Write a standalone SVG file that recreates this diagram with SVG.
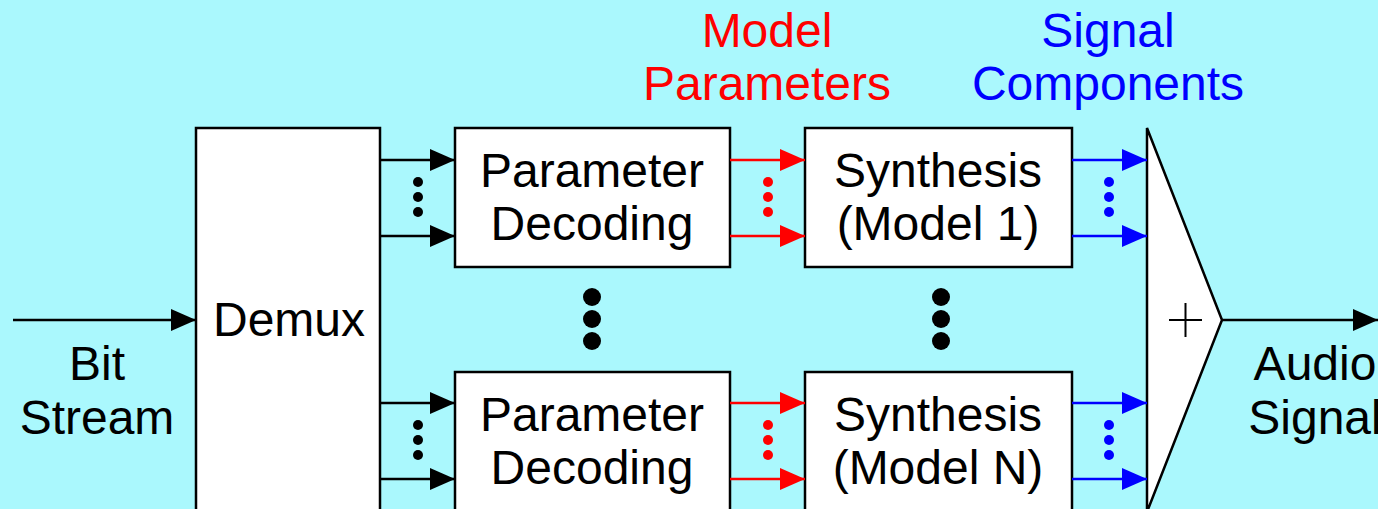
<svg xmlns="http://www.w3.org/2000/svg" width="1378" height="509" viewBox="0 0 1378 509">
<defs>
<marker id="ak" viewBox="0 0 25 22" refX="25" refY="11" markerWidth="25" markerHeight="22" markerUnits="userSpaceOnUse" orient="auto"><path d="M0,0 L25,11 L0,22 Z" fill="#000"/></marker>
<marker id="ar" viewBox="0 0 25 22" refX="25" refY="11" markerWidth="25" markerHeight="22" markerUnits="userSpaceOnUse" orient="auto"><path d="M0,0 L25,11 L0,22 Z" fill="#f00"/></marker>
<marker id="ab" viewBox="0 0 25 22" refX="25" refY="11" markerWidth="25" markerHeight="22" markerUnits="userSpaceOnUse" orient="auto"><path d="M0,0 L25,11 L0,22 Z" fill="#00f"/></marker>
</defs>
<style>
.box{fill:#fff;stroke:#000;stroke-width:2.5}
text{font-family:"Liberation Sans",Arial,sans-serif;font-size:48px;text-anchor:middle;fill:#000}
.k{stroke:#000;stroke-width:2.5;fill:none;marker-end:url(#ak)}
.r{stroke:#f00;stroke-width:2.5;fill:none;marker-end:url(#ar)}
.b{stroke:#00f;stroke-width:2.5;fill:none;marker-end:url(#ab)}
</style>
<rect width="1378" height="509" fill="#aaf8fd"/>
<g id="labels">
<text x="767" y="47" style="fill:#f00">Model</text>
<text x="767" y="100" style="fill:#f00">Parameters</text>
<text x="1108" y="47" style="fill:#00f">Signal</text>
<text x="1108" y="100" style="fill:#00f">Components</text>
<text x="97" y="380">Bit</text>
<text x="97" y="434">Stream</text>
<text x="1315" y="380">Audio</text>
<text x="1315" y="434">Signal</text>
</g>
<g id="demux"><rect class="box" x="196" y="128" width="184" height="400"/><text x="289" y="336">Demux</text></g>
<g id="pd1"><rect class="box" x="455" y="128" width="275" height="139"/><text x="592" y="187">Parameter</text><text x="592" y="240">Decoding</text></g>
<g id="pdN"><rect class="box" x="455" y="372" width="275" height="160"/><text x="592" y="431">Parameter</text><text x="592" y="484">Decoding</text></g>
<g id="syn1"><rect class="box" x="805" y="128" width="267" height="139"/><text x="938" y="187">Synthesis</text><text x="938" y="240">(Model 1)</text></g>
<g id="synN"><rect class="box" x="805" y="372" width="267" height="160"/><text x="938" y="431">Synthesis</text><text x="938" y="484">(Model N)</text></g>
<g id="sum"><path d="M1147,128 L1222,320 L1147,512 Z" fill="#fff" stroke="#000" stroke-width="2.5" stroke-linejoin="miter"/><path d="M1169,320 H1202 M1185.5,303 V337" stroke="#000" stroke-width="2"/></g>
<g id="connectors">
<line class="k" x1="13" y1="320" x2="196" y2="320"/>
<line class="k" x1="1222" y1="320" x2="1378" y2="320"/>
<line class="k" x1="380" y1="160" x2="455" y2="160"/>
<line class="k" x1="380" y1="236" x2="455" y2="236"/>
<line class="k" x1="380" y1="403" x2="455" y2="403"/>
<line class="k" x1="380" y1="479" x2="455" y2="479"/>
<line class="r" x1="730" y1="160" x2="805" y2="160"/>
<line class="r" x1="730" y1="236" x2="805" y2="236"/>
<line class="r" x1="730" y1="403" x2="805" y2="403"/>
<line class="r" x1="730" y1="479" x2="805" y2="479"/>
<line class="b" x1="1072" y1="160" x2="1147" y2="160"/>
<line class="b" x1="1072" y1="236" x2="1147" y2="236"/>
<line class="b" x1="1072" y1="403" x2="1147" y2="403"/>
<line class="b" x1="1072" y1="479" x2="1147" y2="479"/>
</g>
<g id="dots">
<g fill="#000"><circle cx="418" cy="182" r="5"/><circle cx="418" cy="197" r="5"/><circle cx="418" cy="212" r="5"/><circle cx="418" cy="425" r="5"/><circle cx="418" cy="440" r="5"/><circle cx="418" cy="455" r="5"/>
<circle cx="592" cy="297" r="9"/><circle cx="592" cy="319" r="9"/><circle cx="592" cy="341" r="9"/><circle cx="941" cy="297" r="9"/><circle cx="941" cy="319" r="9"/><circle cx="941" cy="341" r="9"/></g>
<g fill="#f00"><circle cx="768" cy="182" r="5"/><circle cx="768" cy="197" r="5"/><circle cx="768" cy="212" r="5"/><circle cx="768" cy="425" r="5"/><circle cx="768" cy="440" r="5"/><circle cx="768" cy="455" r="5"/></g>
<g fill="#00f"><circle cx="1109" cy="182" r="5"/><circle cx="1109" cy="197" r="5"/><circle cx="1109" cy="212" r="5"/><circle cx="1109" cy="425" r="5"/><circle cx="1109" cy="440" r="5"/><circle cx="1109" cy="455" r="5"/></g>
</g>
</svg>
